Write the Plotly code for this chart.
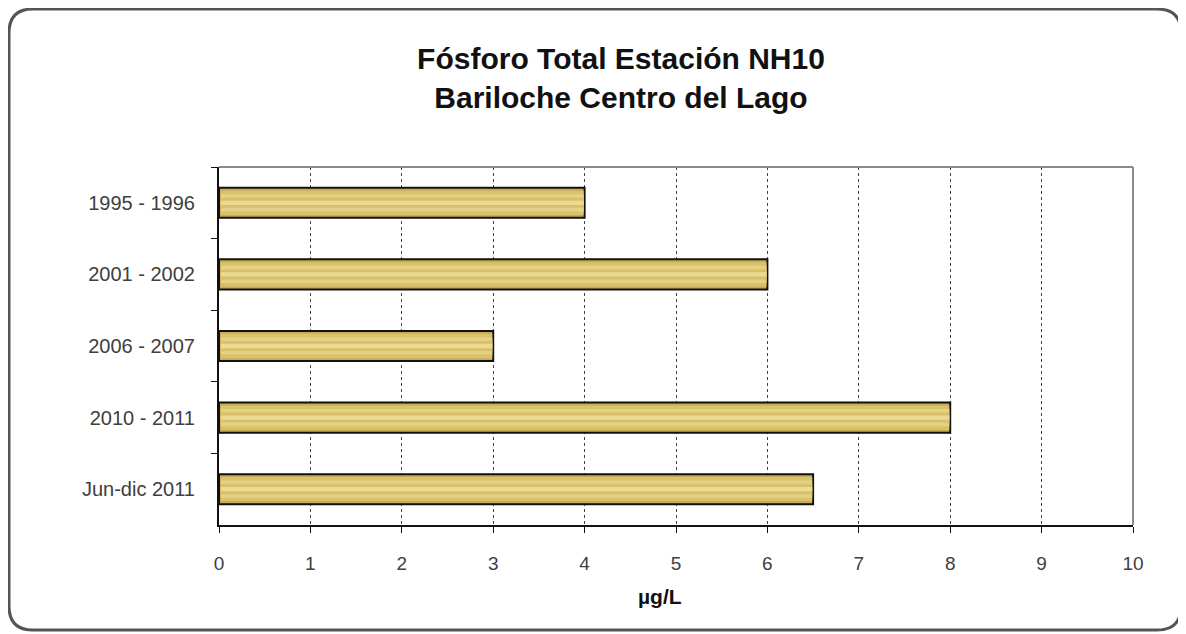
import plotly.graph_objects as go

# Fósforo total, estación NH10 (µg/L)
periodos = ["1995 - 1996", "2001 - 2002", "2006 - 2007", "2010 - 2011", "Jun-dic 2011"]
fosforo = [4, 6, 3, 8, 6.5]
x_ticks = list(range(0, 11))

# page body has an 8px margin, so work in figure pixels = screen pixels - 8
OFF = 8
W, H = 1186 - OFF, 634 - OFF
L, T = 219 - OFF, 167 - OFF
R, B = W - (1133 - OFF), H - (525 - OFF)
pw, ph = W - L - R, H - T - B


def px2paper(x, y):
    # screen pixel -> paper coords
    return (x - OFF - L) / pw, 1 - (y - OFF - T) / ph


def rounded_rect(x0, y0, x1, y1, r):
    pts = [
        ("M", (x0 + r, y0)), ("L", (x1 - r, y0)), ("Q", (x1, y0), (x1, y0 + r)),
        ("L", (x1, y1 - r)), ("Q", (x1, y1), (x1 - r, y1)),
        ("L", (x0 + r, y1)), ("Q", (x0, y1), (x0, y1 - r)),
        ("L", (x0, y0 + r)), ("Q", (x0, y0), (x0 + r, y0)),
    ]
    out = []
    for p in pts:
        coords = " ".join("%.5f,%.5f" % px2paper(*c) for c in p[1:])
        out.append(p[0] + " " + coords)
    return " ".join(out) + " Z"


fig = go.Figure()

# bar body plus lighter bands to mimic the striped gold fill
fig.add_trace(go.Bar(
    y=periodos, x=fosforo, orientation="h", width=0.42,
    marker=dict(color="#c9ab52", line=dict(color="#111111", width=2)),
    hoverinfo="x+y", showlegend=False,
))
for w, c in [(0.34, "#d9c26c"), (0.24, "#e5d184"), (0.14, "#d8bf68"), (0.06, "#eadb94")]:
    fig.add_trace(go.Bar(
        y=periodos, x=[v - 0.03 for v in fosforo], base=[0.02] * len(fosforo),
        orientation="h", width=w,
        marker=dict(color=c, line=dict(width=0)),
        hoverinfo="skip", showlegend=False,
    ))

ax_x, ax_y = px2paper(660, 596)

fig.update_layout(
    width=W, height=H,
    margin=dict(l=L, r=R, t=T, b=B),
    paper_bgcolor="white", plot_bgcolor="white",
    barmode="overlay",
    font=dict(family="Liberation Sans, Arial, sans-serif", color="#333333"),
    title=dict(
        text="<b>Fósforo Total Estación NH10<br>Bariloche Centro del Lago</b>",
        x=(621 - OFF) / W, xanchor="center", y=1 - (69 - OFF) / H, yanchor="middle",
        font=dict(size=30, color="#111111"),
    ),
    xaxis=dict(
        range=[0, 10], tickvals=x_ticks, ticks="outside", ticklen=6,
        tickcolor="#111111", tickfont=dict(size=19, color="#404040"),
        ticklabelstandoff=14,
        showgrid=True, gridcolor="#444444", griddash="dot", gridwidth=1,
        showline=True, linecolor="#111111", linewidth=2,
        zeroline=False, fixedrange=True,
    ),
    yaxis=dict(
        categoryorder="array", categoryarray=periodos, autorange="reversed",
        ticks="outside", tickson="boundaries", ticklen=6, tickcolor="#111111",
        tickfont=dict(size=20, color="#404040"), ticklabelstandoff=18,
        showline=True, linecolor="#111111", linewidth=2, showgrid=False,
        fixedrange=True,
    ),
    annotations=[
        dict(text="<b>µg/L</b>", xref="paper", yref="paper", x=ax_x, y=ax_y,
             xanchor="center", yanchor="middle", showarrow=False,
             font=dict(size=21, color="#111111")),
    ],
    shapes=[
        # gray top and right frame of plot area
        dict(type="line", xref="paper", yref="paper", x0=0, x1=1, y0=1, y1=1,
             line=dict(color="#8a8a8a", width=2)),
        dict(type="line", xref="paper", yref="paper", x0=1, x1=1, y0=0, y1=1,
             line=dict(color="#8a8a8a", width=2)),
        # rounded outer frame
        dict(type="path", xref="paper", yref="paper",
             path=rounded_rect(9, 9, 1181, 630, 24),
             line=dict(color="#555555", width=3)),
    ],
)

fig.write_html("out.html")
